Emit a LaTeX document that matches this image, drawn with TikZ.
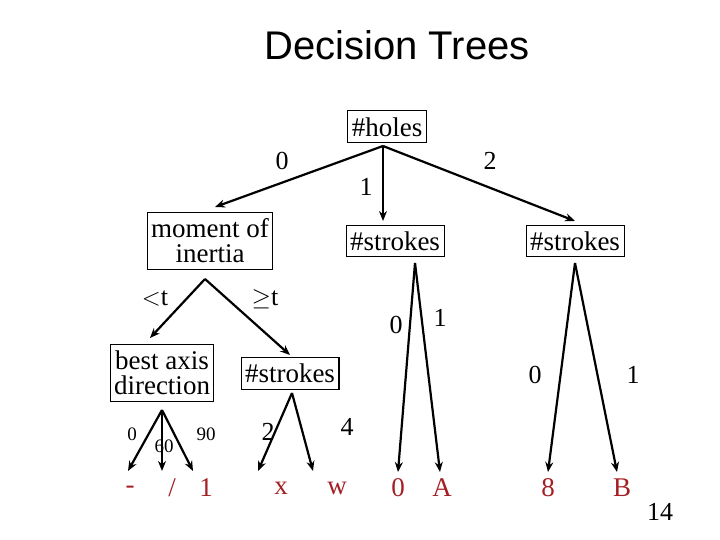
\documentclass[tikz,border=0pt]{standalone}
\usepackage{fontspec}
\setmainfont{Liberation Serif}
\newfontfamily\titlefont{Liberation Sans}
\usetikzlibrary{arrows.meta}
\definecolor{leafred}{HTML}{A31F24}
\begin{document}
\begin{tikzpicture}[x=1pt,y=-1pt,
  box/.style={draw,line width=1pt,inner xsep=4pt,inner ysep=6.5pt,align=center,font=\fontsize{27}{29}\selectfont},
  edge/.style={line width=2.2pt,-{Stealth[length=10pt,width=8pt]}},
  lab/.style={font=\fontsize{26}{28}\selectfont},
  slab/.style={font=\fontsize{19}{21}\selectfont},
  leaf/.style={text=leafred,font=\fontsize{27}{29}\selectfont}]
\useasboundingbox (0,0) rectangle (720,540);
\node[font=\titlefont\fontsize{40}{44}\selectfont] (title) at (397,45) {Decision Trees};
\node[box] (holes) at (387,127) {\#holes};
\node[box] (moment) at (210,241) {moment of\\[-4pt]inertia};
\node[box] (smid) at (395,241) {\#strokes};
\node[box] (sright) at (575,241) {\#strokes};
\node[box] (best) at (162,373) {best axis\\[-4pt]direction};
\node[box] (slow) at (290,373) {\#strokes};
\coordinate (h0) at (383,146);
\draw[edge] (h0) -- (215,207) coordinate (m0);
\draw[edge] (h0) -- (383,221);
\draw[edge] (h0) -- (575,221);
\node[lab] (l0) at (282,161) {0};
\node[lab] (l1) at (366,187) {1};
\node[lab] (l2) at (490,161) {2};
\coordinate (mb) at (205,279);
\draw[edge] (mb) -- (150,338);
\draw[edge] (mb) -- (290,355);
\node[lab] (lt) at (155,299) {$<$t};
\node[lab] (ge) at (265,299) {$\geq$t};
\node[leaf] (k0) at (398,488) {0};
\node[leaf] (kA) at (442,488) {A};
\node[leaf] (k8) at (548,488) {8};
\node[leaf] (kB) at (622,488) {B};
\node[leaf] (kd) at (130,490) {-};
\node[leaf] (ks) at (172,488) {/};
\node[leaf] (k1) at (206,488) {1};
\node[leaf] (kx) at (281,488) {x};
\node[leaf] (kw) at (337,488) {w};
\coordinate (smb) at (415,263);
\draw[edge] (smb) -- (398,472);
\draw[edge] (smb) -- (440,472);
\node[lab] (a0) at (396,325) {0};
\node[lab] (a1) at (440,318) {1};
\coordinate (srb) at (575,263);
\draw[edge] (srb) -- (548,472);
\draw[edge] (srb) -- (617,472);
\node[lab] (b0) at (535,375) {0};
\node[lab] (b1) at (633,375) {1};
\coordinate (bb) at (162,410);
\draw[edge] (bb) -- (128,471);
\draw[edge] (bb) -- (162,471);
\draw[edge] (bb) -- (193,471);
\node[slab] (c0) at (132,434) {0};
\node[slab] (c60) at (164,446) {60};
\node[slab] (c90) at (206,434) {90};
\coordinate (lb) at (292,393);
\draw[edge] (lb) -- (258,471);
\draw[edge] (lb) -- (313,471);
\node[lab] (d2) at (268,432) {2};
\node[lab] (d4) at (347,427) {4};
\node[lab] (pg) at (660,512) {14};
\end{tikzpicture}
\end{document}
